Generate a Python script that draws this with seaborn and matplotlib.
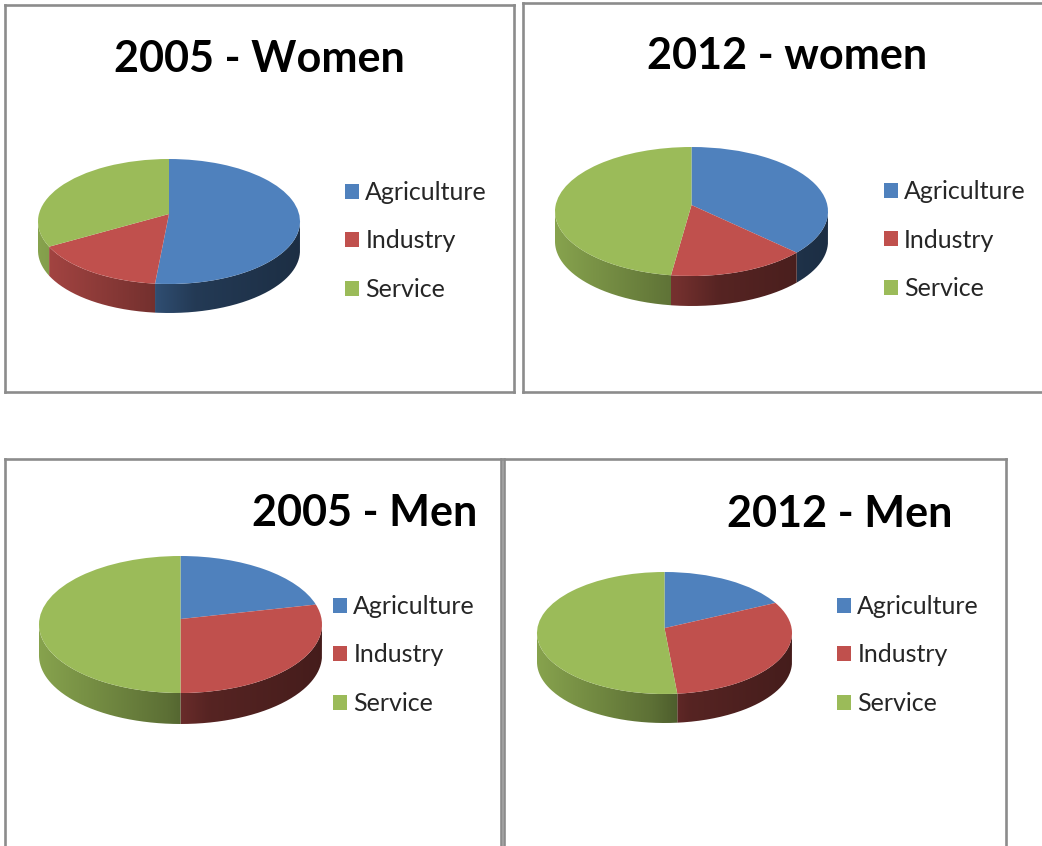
"""Four 3D-style pie charts of employment by sector."""

import matplotlib

matplotlib.use("Agg")

import matplotlib.pyplot as plt
import numpy as np
import seaborn as sns
from matplotlib.colors import LinearSegmentedColormap, to_rgb
from matplotlib.patches import PathPatch
from matplotlib.path import Path
from matplotlib.transforms import Transform

sectors = ["Agriculture", "Industry", "Service"]
sector_colors = ["#4f81bd", "#c0504d", "#9bbb59"]

titles = ["2005 - Women", "2012 - women", "2005 - Men", "2012 - Men"]
women_2005 = [51.7, 16.7, 31.6]
women_2012 = [36.0, 16.4, 47.6]
men_2005 = [20.3, 29.7, 50.0]
men_2012 = [16.8, 31.6, 51.6]

W, H = 1042, 846

sns.set_theme(style="white")
plt.rcParams["font.family"] = ["Lato", "DejaVu Sans"]

# layout in pixels: frame (x0, y0, x1, y1), pie (left, right, top, bottom of top face), depth,
# title centre (x, y), legend (x, y centre), then the perspective lift of the slice centre
panels = [
    (women_2005, (5, 5, 514, 392), (38, 300, 159, 284), 29, (259, 59), (345, 241), 0.12),
    (women_2012, (523, 3, 1060, 392), (555, 828, 147, 276), 30, (787, 56), (884, 240), 0.10),
    (men_2005, (5, 459, 501, 870), (39, 322, 556, 693), 31, (365, 513), (333, 655), 0.08),
    (men_2012, (504, 459, 1006, 870), (537, 792, 572, 694), 29, (840, 514), (837, 655), 0.08),
]


class LiftCentre(Transform):
    """Move only the shared centre point of the slices, leaving the rim alone."""

    input_dims = 2
    output_dims = 2

    def __init__(self, lift):
        super().__init__()
        self.lift = lift

    def transform_non_affine(self, values):
        out = np.array(values, dtype=float)
        at_centre = np.hypot(out[:, 0], out[:, 1]) < 1e-6
        out[at_centre, 1] += self.lift
        return out


def pixel_rect(x0, y0, x1, y1):
    return [x0 / W, 1 - y1 / H, (x1 - x0) / W, (y1 - y0) / H]


def side_cmap(color):
    base = np.array(to_rgb(color))
    stops = [(0.0, 0.87), (0.45, 0.60), (0.6, 0.45), (1.0, 0.36)]
    return LinearSegmentedColormap.from_list("side", [(t, tuple(base * s)) for t, s in stops])


def draw_pie(ax, values, depth, lift):
    """Top face from ax.pie, side wall as gradient images clipped to each slice."""
    wedges, _ = ax.pie(
        values,
        colors=sector_colors,
        startangle=90,
        counterclock=False,
        radius=1,
        wedgeprops={"linewidth": 0},
    )
    ax.set_aspect("auto")
    gradient = np.linspace(0, 1, 256).reshape(1, -1)
    for wedge, color in zip(wedges, sector_colors):
        wedge.set_zorder(3)
        wedge.set_transform(LiftCentre(lift) + ax.transData)
        start = max(wedge.theta1, -180)
        stop = min(wedge.theta2, 0)
        if stop <= start:
            continue
        angles = np.radians(np.linspace(start, stop, 120))
        xs, ys = np.cos(angles), np.sin(angles)
        verts = np.vstack(
            [np.column_stack([xs, ys]), np.column_stack([xs[::-1], ys[::-1] - depth])]
        )
        image = ax.imshow(
            gradient,
            extent=(-1, 1, -1 - depth, 1),
            aspect="auto",
            cmap=side_cmap(color),
            vmin=0,
            vmax=1,
            zorder=2,
        )
        clip = PathPatch(Path(np.vstack([verts, verts[:1]])), transform=ax.transData)
        image.set_clip_path(clip)
    ax.set_xlim(-1, 1)
    ax.set_ylim(-1 - depth, 1)
    return wedges


fig = plt.figure(figsize=(W / 100, H / 100), dpi=100, facecolor="white")

for title, (values, frame, pie_box, depth_px, title_xy, legend_xy, lift) in zip(titles, panels):
    frame_ax = fig.add_axes(pixel_rect(*frame), zorder=1)
    frame_ax.set_xticks([])
    frame_ax.set_yticks([])
    for spine in frame_ax.spines.values():
        spine.set_color("#8c8c8c")
        spine.set_linewidth(1.9)

    left, right, top, bottom = pie_box
    pie_ax = fig.add_axes(pixel_rect(left, top, right, bottom + depth_px), zorder=2)
    wedges = draw_pie(pie_ax, values, depth_px / ((bottom - top) / 2), lift)

    fig.text(
        title_xy[0] / W,
        1 - title_xy[1] / H,
        title,
        ha="center",
        va="center",
        fontsize=31.1,
        fontweight="bold",
        color="black",
    )
    pie_ax.legend(
        wedges,
        sectors,
        loc="center left",
        bbox_to_anchor=(legend_xy[0] / W, 1 - legend_xy[1] / H),
        bbox_transform=fig.transFigure,
        frameon=False,
        fontsize=18,
        labelcolor="#262626",
        handlelength=0.56,
        handleheight=0.56,
        handletextpad=0.25,
        labelspacing=1.02,
        borderpad=0,
        borderaxespad=0,
    )

fig.savefig("out.png", dpi=100, facecolor="white")
